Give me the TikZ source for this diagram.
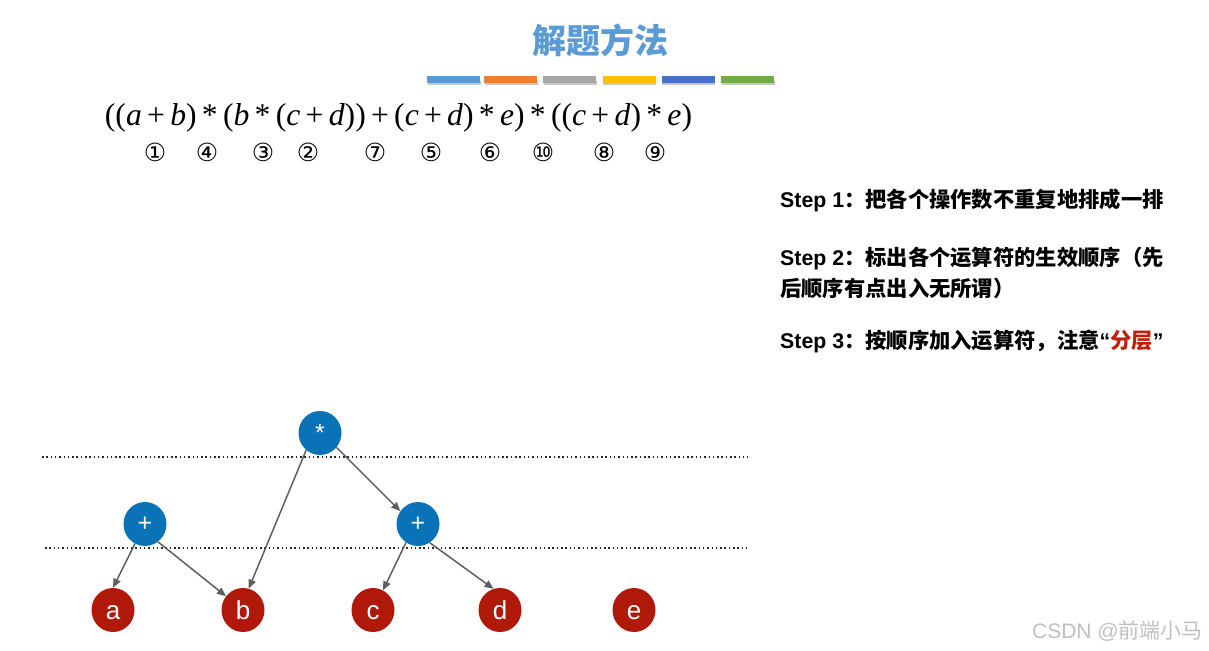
\documentclass[tikz,border=0pt]{standalone}
\usepackage{fontspec}
\usetikzlibrary{arrows.meta,shapes.geometric}
\newfontfamily\cjk{Noto Sans CJK SC}
\newfontfamily\lsans{Liberation Sans}
\newfontfamily\tms{Liberation Serif}
\newfontfamily\djv{DejaVu Sans}
\definecolor{ttl}{HTML}{5B9BD5}
\definecolor{barA}{HTML}{5B9BD5}
\definecolor{barB}{HTML}{ED7D31}
\definecolor{barC}{HTML}{A5A5A5}
\definecolor{barD}{HTML}{FFC000}
\definecolor{barE}{HTML}{4472C4}
\definecolor{barF}{HTML}{70AD47}
\definecolor{opblue}{HTML}{0A73B8}
\definecolor{valred}{HTML}{B0180A}
\definecolor{arrgray}{HTML}{5F5F5F}
\definecolor{hl}{HTML}{C0200A}
\newcommand\mv[1]{\textit{#1}}
\begin{document}
\begin{tikzpicture}[x=1pt,y=-1pt,
  opnode/.style={ellipse,fill=opblue,minimum width=43pt,minimum height=44pt,inner sep=0pt,text=white,font=\lsans\fontsize{25}{25}\selectfont},
  valnode/.style={ellipse,fill=valred,minimum width=43pt,minimum height=44pt,inner sep=0pt,text=white,font=\lsans\fontsize{26}{26}\selectfont,text height=18pt,text depth=0pt},
  edge/.style={draw=arrgray,line width=1.5pt,-{Triangle[length=9pt,width=7.5pt]}},
  layer/.style={draw=black!85,line width=2pt,dash pattern=on 1.5pt off 2.8pt},
  cnum/.style={font=\djv\fontsize{25}{25}\selectfont,inner sep=0pt},
  steptext/.style={anchor=west,inner sep=0pt,font=\fontsize{21.3}{24}\selectfont},
  bar/.style={minimum width=53pt,minimum height=7pt,inner sep=0pt}
]
\useasboundingbox[fill=white] (0,0) rectangle (1209,650);

% title
\node[text=ttl,font=\cjk\bfseries\fontsize{34}{34}\selectfont] (title) at (600,40) {解题方法};

% colour bars
\foreach \x/\c/\n in {453.5/barA/b1,510.5/barB/b2,569.5/barC/b3,629/barD/b4,688/barE/b5,747.5/barF/b6}{
  \fill[black!22] (\x-26,81) rectangle (\x+27,85);
  \node[bar,fill=\c] (\n) at (\x,79.5) {};
}

% formula
\node[inner sep=0pt] (formula) at (398.5,118) {\resizebox{587pt}{!}{\tms ((\mv{a}\,+\,\mv{b})\,*\,(\mv{b}\,*\,(\mv{c}\,+\,\mv{d}))\,+\,(\mv{c}\,+\,\mv{d})\,*\,\mv{e})\,*\,((\mv{c}\,+\,\mv{d})\,*\,\mv{e})}};

% circled numbers
\node[cnum] (n1) at (155,152) {①};
\node[cnum] (n4) at (207,152) {④};
\node[cnum] (n3) at (263,152) {③};
\node[cnum] (n2) at (308,152) {②};
\node[cnum] (n7) at (375,152) {⑦};
\node[cnum] (n5) at (431,152) {⑤};
\node[cnum] (n6) at (490,152) {⑥};
\node[cnum] (n10) at (543,152) {⑩};
\node[cnum] (n8) at (604,152) {⑧};
\node[cnum] (n9) at (655,152) {⑨};

% steps
\node[steptext] (s1) at (780,200) {{\lsans\bfseries Step 1}{\cjk\bfseries ：把各个操作数不重复地排成一排}};
\node[steptext] (s2) at (780,258) {{\lsans\bfseries Step 2}{\cjk\bfseries ：标出各个运算符的生效顺序（先}};
\node[steptext] (s2b) at (780,288) {{\cjk\bfseries 后顺序有点出入无所谓）}};
\node[steptext] (s3) at (780,341) {{\lsans\bfseries Step 3}{\cjk\bfseries ：按顺序加入运算符，注意}{\lsans\bfseries “}{\cjk\bfseries\color{hl}分层}{\lsans\bfseries ”}};

% layers
\coordinate (l1a) at (42,457);
\coordinate (l1b) at (748,457);
\coordinate (l2a) at (45,548);
\coordinate (l2b) at (750,548);
\draw[layer] (l1a) -- (l1b);
\draw[layer] (l2a) -- (l2b);

% tree nodes
\node[opnode] (star) at (320,433) {*};
\node[opnode] (lp) at (145,524) {+};
\node[opnode] (rp) at (418,524) {+};
\node[valnode] (a) at (113,610) {a};
\node[valnode] (b) at (243,610) {b};
\node[valnode] (c) at (373,610) {c};
\node[valnode] (d) at (500,610) {d};
\node[valnode] (e) at (634,610) {e};

% edges
\draw[edge] (star.231) -- (b.75);
\draw[edge] (star.-41) -- (rp.144);
\draw[edge] (lp.243) -- (a.90);
\draw[edge] (lp.-54) -- (b.141);
\draw[edge] (rp.237) -- (c.63);
\draw[edge] (rp.-58) -- (d.107);

% watermark
\node[text=black!25,font=\fontsize{21}{21}\selectfont,anchor=east,inner sep=0pt] (wm) at (1203,631) {{\lsans CSDN @}{\cjk 前端小马}};
\end{tikzpicture}
\end{document}
